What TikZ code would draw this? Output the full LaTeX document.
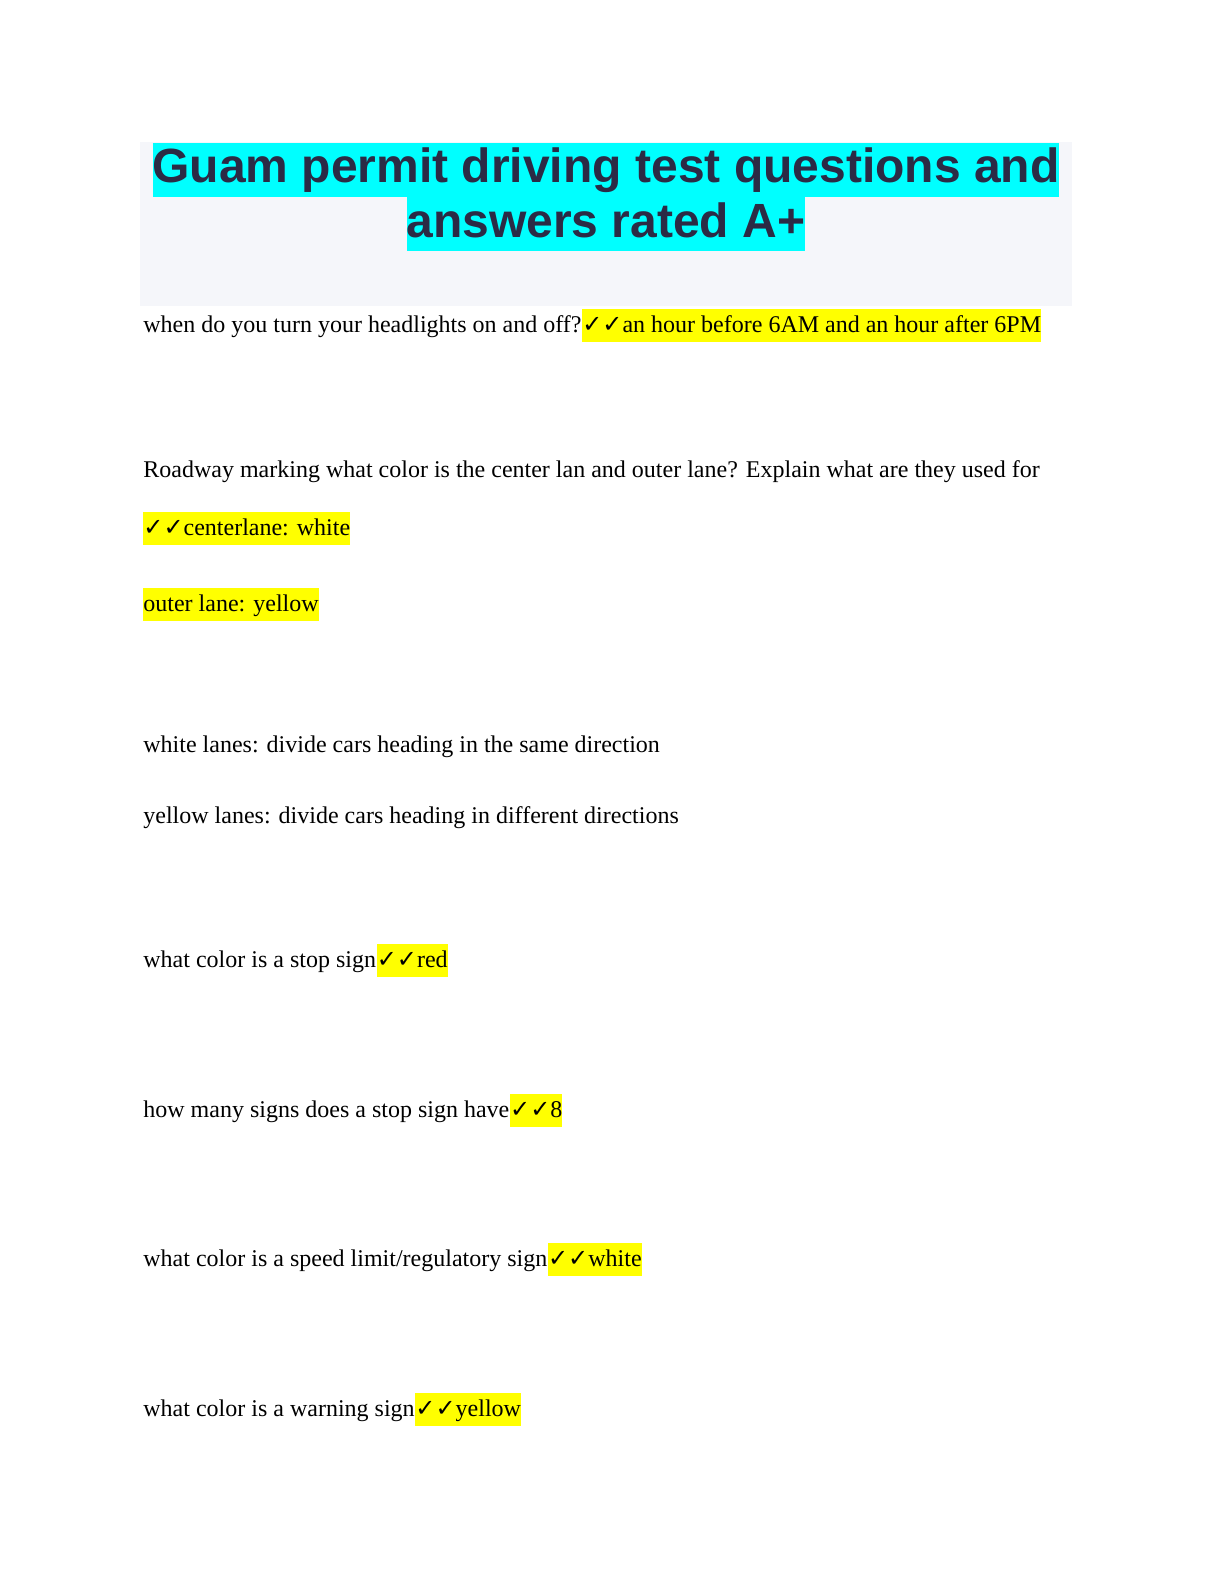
\documentclass[tikz,border=0pt]{standalone}
\usepackage{fontspec}
\setmainfont{Liberation Serif}
\newfontfamily\ttl{Liberation Sans}
\newfontfamily\chk{DejaVu Sans}
\definecolor{navy}{HTML}{2B2B45}
\definecolor{hl}{HTML}{FFFF00}
\definecolor{cy}{HTML}{00FFFF}
\definecolor{pane}{HTML}{F5F6FA}
\tikzset{
 txt/.style={anchor=base west,inner sep=0pt,font=\fontsize{12}{14}\selectfont},
 ans/.style={txt,fill=hl,inner ysep=2.5pt,text height=9pt,text depth=2.5pt},
 ttlline/.style={inner sep=0pt,fill=cy,text=navy,font=\ttl\bfseries\fontsize{24}{28}\selectfont,text height=20pt,text depth=7pt,inner xsep=0pt}
}
\newcommand{\ck}{{\chk\bfseries ✓✓}}
\begin{document}
\begin{tikzpicture}[x=0.5pt,y=-0.5pt]
\useasboundingbox (0,0) rectangle (1224,1584);
\fill[pane] (140,142) rectangle (1072,306);
\node[ttlline] (t1) at (606,170) {Guam permit driving test questions and};
\node[ttlline] (t2) at (606,224) {answers rated A+};
\node[txt] (q1) at (143,332) {when do you turn your headlights on and off? };
\node[ans] (a1) at (q1.base east) {\ck an hour before 6AM and an hour after 6PM};
\node[txt] (q2) at (143,477) {Roadway marking what color is the center lan and outer lane? Explain what are they used for};
\node[ans] (a2) at (143,535) {\ck centerlane: white};
\node[ans] (a3) at (143,611) {outer lane: yellow};
\node[txt] (l1) at (143,752) {white lanes: divide cars heading in the same direction};
\node[txt] (l2) at (143,823) {yellow lanes: divide cars heading in different directions};
\node[txt] (q3) at (143,967) {what color is a stop sign };
\node[ans] (a4) at (q3.base east) {\ck red};
\node[txt] (q4) at (143,1117) {how many signs does a stop sign have };
\node[ans] (a5) at (q4.base east) {\ck 8};
\node[txt] (q5) at (143,1266) {what color is a speed limit/regulatory sign };
\node[ans] (a6) at (q5.base east) {\ck white};
\node[txt] (q6) at (143,1416) {what color is a warning sign };
\node[ans] (a7) at (q6.base east) {\ck yellow};
\end{tikzpicture}
\end{document}
